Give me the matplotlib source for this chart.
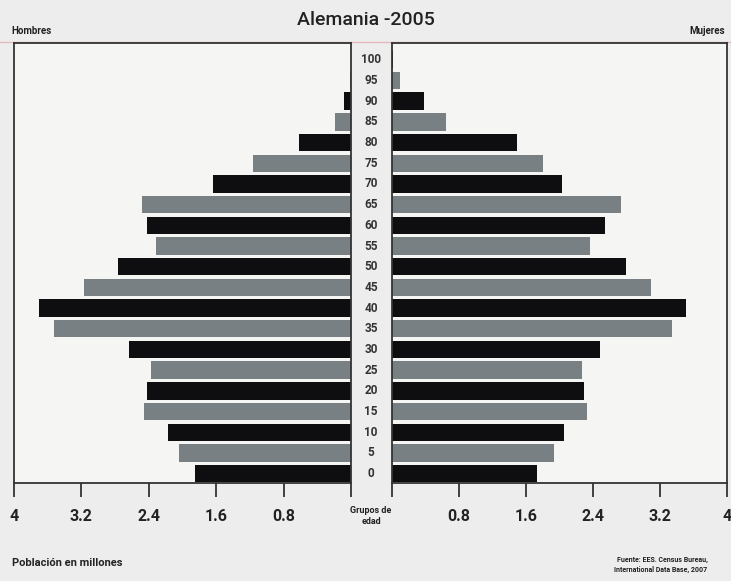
import matplotlib.pyplot as plt
from matplotlib import transforms

plt.rcParams['font.family'] = ['Roboto', 'DejaVu Sans']

# age groups (lower bound of each 5-year group)
ages = [0, 5, 10, 15, 20, 25, 30, 35, 40, 45, 50,
        55, 60, 65, 70, 75, 80, 85, 90, 95, 100]

# population in millions
hombres = [1.85, 2.04, 2.17, 2.46, 2.42, 2.37, 2.63, 3.53, 3.70, 3.17, 2.77,
           2.31, 2.42, 2.48, 1.64, 1.16, 0.62, 0.19, 0.08, 0.01, 0.0]
mujeres = [1.73, 1.94, 2.06, 2.33, 2.29, 2.27, 2.48, 3.34, 3.51, 3.09, 2.80,
           2.36, 2.54, 2.74, 2.03, 1.80, 1.49, 0.65, 0.39, 0.10, 0.01]

x_ticks = [4, 3.2, 2.4, 1.6, 0.8, 0]
x_labels = ['4', '3.2', '2.4', '1.6', '0.8', '']

negro = '#0e0e10'
gris = '#788084'
colores = [negro if i % 2 == 0 else gris for i in range(len(ages))]
pos = list(range(len(ages)))

fig = plt.figure(figsize=(7.31, 5.81), dpi=100, facecolor='#ecedec')
ax_h = fig.add_axes([0.0192, 0.1687, 0.461, 0.757])
ax_m = fig.add_axes([0.536, 0.1687, 0.4585, 0.757])

ax_h.barh(pos, hombres, height=0.84, color=colores)
ax_m.barh(pos, mujeres, height=0.84, color=colores)

for ax in (ax_h, ax_m):
    ax.set_facecolor('#f5f5f4')
    ax.set_ylim(-0.45, 20.8)
    ax.set_yticks([])
    ax.set_xticks(x_ticks)
    ax.set_xticklabels(x_labels)
    ax.tick_params(axis='x', direction='out', length=10, width=1.3,
                   color='#333333', pad=9, labelsize=11.5)
    for lbl in ax.get_xticklabels():
        lbl.set_fontweight('bold')
        lbl.set_color('#222222')
    for s in ax.spines.values():
        s.set_color('#333333')
        s.set_linewidth(1.3)

ax_h.set_xlim(4, 0)
ax_m.set_xlim(0, 4)

# faint pink line along the top of both frames
fig.add_artist(plt.Line2D([0.0, 1.0], [0.928, 0.928], color='#e8b8c0',
                          lw=1.0, transform=fig.transFigure, zorder=0))

# age labels in the middle column
tr = transforms.blended_transform_factory(fig.transFigure, ax_h.transData)
for p, a in zip(pos, ages):
    fig.text(0.5075, p, str(a), transform=tr, ha='center', va='center',
             fontsize=8.5, fontweight='bold', color='#333333')

fig.text(0.5, 0.965, 'Alemania -2005', ha='center', va='center', fontsize=14,
         fontweight='medium', color='#222222')
fig.text(0.016, 0.947, 'Hombres', ha='left', va='center', fontsize=7,
         fontweight='bold', color='#222222')
fig.text(0.992, 0.947, 'Mujeres', ha='right', va='center', fontsize=7,
         fontweight='bold', color='#222222')
fig.text(0.5075, 0.112, 'Grupos de\nedad', ha='center', va='center',
         fontsize=6.5, fontweight='bold', color='#222222', linespacing=1.3)
fig.text(0.016, 0.031, 'Población en millones', ha='left', va='center',
         fontsize=8, fontweight='bold', color='#222222')
fig.text(0.968, 0.028, 'Fuente: EES. Census Bureau,\nInternational Data Base, 2007',
         ha='right', va='center', fontsize=5, fontweight='bold',
         color='#222222', linespacing=1.2)

fig.savefig('out.png', dpi=100, facecolor=fig.get_facecolor())
